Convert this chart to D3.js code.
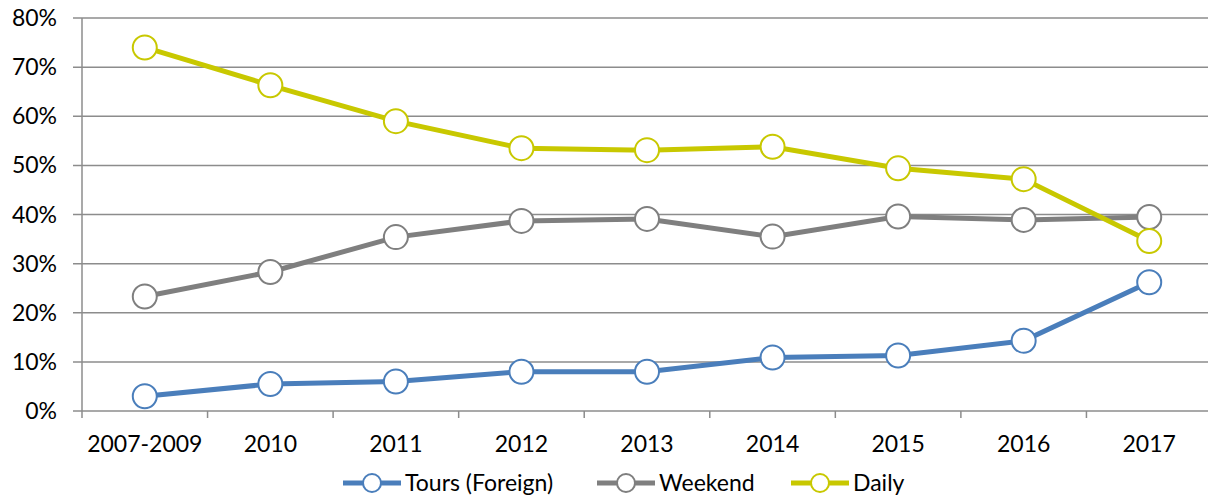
<!DOCTYPE html>
<html>
<head>
<meta charset="utf-8">
<script src="https://cdn.jsdelivr.net/npm/d3@7"></script>
<style>
  body { margin: 0; background: #fff; }
  text { font-family: Lato, "Open Sans", sans-serif; fill: #000; }
</style>
</head>
<body>
<div id="chart"></div>
<script>
const categories = ["2007-2009", "2010", "2011", "2012", "2013", "2014", "2015", "2016", "2017"];
const tours = [3.0, 5.5, 6.0, 8.0, 8.0, 10.9, 11.3, 14.3, 26.2];
const weekend = [23.3, 28.3, 35.4, 38.7, 39.1, 35.5, 39.6, 38.9, 39.5];
const daily = [74.0, 66.3, 59.0, 53.5, 53.1, 53.8, 49.4, 47.2, 34.6];
const yTicks = [0, 10, 20, 30, 40, 50, 60, 70, 80];

const seriesList = [
  {name: "Tours (Foreign)", values: tours, color: "#4a7ebb"},
  {name: "Weekend", values: weekend, color: "#7f7f7f"},
  {name: "Daily", values: daily, color: "#c8c800"}
];

const width = 1208;
const height = 495;
const plotLeft = 82, plotRight = 1212, plotTop = 18, plotBottom = 411;
const fontSize = 23;

const svg = d3.select("#chart")
              .append("svg")
              .attr("width", width)
              .attr("height", height);

let xScale = d3.scaleBand().domain(categories).range([plotLeft, plotRight]);
let yScale = d3.scaleLinear().domain([0, 80]).range([plotBottom, plotTop]);

// gridlines
svg.append("g")
  .selectAll("line")
  .data(yTicks)
  .join("line")
    .attr("x1", plotLeft - 9)
    .attr("x2", width)
    .attr("y1", d => yScale(d))
    .attr("y2", d => yScale(d))
    .attr("stroke", "#8c8c8c")
    .attr("stroke-width", 1.5);

// y axis line
svg.append("line")
  .attr("x1", plotLeft).attr("x2", plotLeft)
  .attr("y1", plotTop).attr("y2", plotBottom + 7)
  .attr("stroke", "#8c8c8c")
  .attr("stroke-width", 1.5);

// category tick marks
svg.append("g")
  .selectAll("line")
  .data(categories.slice(1))
  .join("line")
    .attr("x1", d => xScale(d))
    .attr("x2", d => xScale(d))
    .attr("y1", plotBottom)
    .attr("y2", plotBottom + 7)
    .attr("stroke", "#8c8c8c")
    .attr("stroke-width", 1.5);

svg.append("g")
  .selectAll("text")
  .data(yTicks)
  .join("text")
    .attr("x", 57)
    .attr("y", d => yScale(d))
    .attr("dy", "0.35em")
    .attr("text-anchor", "end")
    .attr("font-size", fontSize)
    .text(d => d + "%");

svg.append("g")
  .selectAll("text")
  .data(categories)
  .join("text")
    .attr("x", d => xScale(d) + xScale.bandwidth() / 2)
    .attr("y", 444)
    .attr("dy", "0.35em")
    .attr("text-anchor", "middle")
    .attr("font-size", fontSize)
    .text(d => d);

const line = d3.line()
  .x((d, i) => xScale(categories[i]) + xScale.bandwidth() / 2)
  .y(d => yScale(d));

seriesList.forEach(function(s) {
  let g = svg.append("g");
  g.append("path")
    .attr("d", line(s.values))
    .attr("fill", "none")
    .attr("stroke", s.color)
    .attr("stroke-width", 5);
  g.selectAll("circle")
    .data(s.values)
    .join("circle")
      .attr("cx", (d, i) => xScale(categories[i]) + xScale.bandwidth() / 2)
      .attr("cy", d => yScale(d))
      .attr("r", 12)
      .attr("fill", "#fff")
      .attr("stroke", s.color)
      .attr("stroke-width", 2);
});

// legend
const legendX = [343, 597, 791];
const legend = svg.append("g")
  .selectAll("g")
  .data(seriesList)
  .join("g")
    .attr("transform", (d, i) => "translate(" + legendX[i] + ",483)");
legend.append("line")
  .attr("x1", 0).attr("x2", 58)
  .attr("stroke", d => d.color)
  .attr("stroke-width", 5);
legend.append("circle")
  .attr("cx", 29)
  .attr("r", 9)
  .attr("fill", "#fff")
  .attr("stroke", d => d.color)
  .attr("stroke-width", 2);
legend.append("text")
  .attr("x", 62)
  .attr("dy", "0.35em")
  .attr("font-size", fontSize)
  .text(d => d.name);
</script>
</body>
</html>
